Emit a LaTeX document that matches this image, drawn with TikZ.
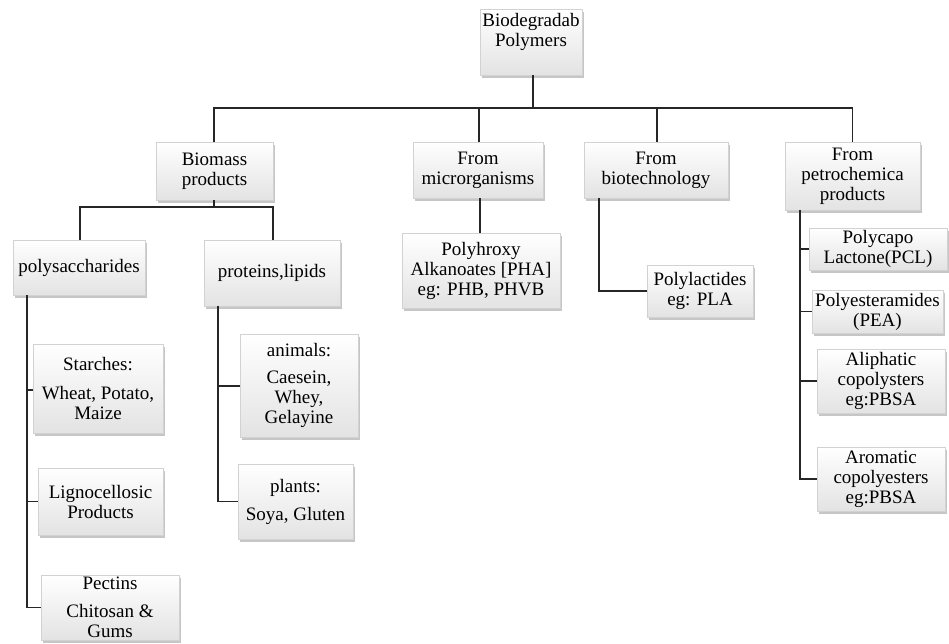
\documentclass[tikz,border=0pt]{standalone}
\usepackage{fontspec}
\setmainfont{Liberation Serif}
\usetikzlibrary{shadows}

\tikzset{
  box/.style={draw=gray!35, line width=.4pt, top color=white, bottom color=gray!22,
    drop shadow={shadow xshift=2pt, shadow yshift=-3pt, opacity=.45},
    align=center, inner sep=0pt, font=\fontsize{19}{20}\selectfont},
  sz/.style 2 args={minimum width=#1pt, minimum height=#2pt},
  link/.style={draw=black!85, line width=1.1pt},
}

\begin{document}
\begin{tikzpicture}[x=1pt, y=-1pt]
  \path[use as bounding box] (0,0) rectangle (949,644);

  \node[box, sz={102}{66}, text depth=24pt] (root) at(531,42){Biodegradab\\Polymers};
  \node[box, sz={117}{58}] (biomass) at(214.5,171){Biomass\\products};
  \node[box, sz={130}{56}] (micro) at(478,170){From\\microrganisms};
  \node[box, sz={144}{56}] (biotech) at(656,170){From\\biotechnology};
  \node[box, sz={135}{68}] (petro) at(852.5,176){From\\petrochemica\\products};

  \node[box, sz={132}{55}] (poly) at(79,267.5){polysaccharides};
  \node[box, sz={136}{66}] (prot) at(272,273){proteins,lipids};
  \node[box, sz={130}{89}] (starch) at(98,388.5){Starches:\\[9pt]Wheat, Potato,\\Maize};
  \node[box, sz={125}{67}] (ligno) at(100.5,501.5){Lignocellosic\\Products};
  \node[box, sz={138}{65}] (pectin) at(110,607.5){Pectins\\[8pt]Chitosan \&\\Gums};
  \node[box, sz={118}{103}] (animal) at(299,385.5){animals:\\[7pt]Caesein,\\Whey,\\Gelayine};
  \node[box, sz={115}{75}] (plant) at(295.5,501.5){plants:\\[8pt]Soya, Gluten};

  \node[box, sz={158}{75}] (pha) at(481,270.5){Polyhroxy\\Alkanoates [PHA]\\eg: PHB, PHVB};
  \node[box, sz={106}{52}] (pla) at(700,291){Polylactides\\eg: PLA};

  \node[box, sz={138}{42}] (pcl) at(878,249){Polycapo\\Lactone(PCL)};
  \node[box, sz={131}{43}] (pea) at(877.5,311.5){Polyesteramides\\(PEA)};
  \node[box, sz={128}{64}] (aliph) at(881,381){Aliphatic\\copolysters\\eg:PBSA};
  \node[box, sz={128}{64}] (arom) at(881,479){Aromatic\\copolyesters\\eg:PBSA};

  \coordinate (bus) at(533,108);
  \coordinate (bmj) at(214,207);
  \coordinate (pstem) at(27,295);
  \coordinate (rstem) at(218,306);
  \coordinate (bstem) at(599,198);
  \coordinate (cstem) at(800,210);

  \draw[link] (root.south -| bus) -- (bus);
  \draw[link] (biomass.north -| bmj) |- (bus -| petro.north) -- (petro.north);
  \draw[link] (bus -| 479,0) -- (micro.north -| 479,0);
  \draw[link] (bus -| 657,0) -- (biotech.north -| 657,0);

  \draw[link] (biomass.south -| bmj) -- (bmj);
  \draw[link] (poly.north -| 80,0) |- (bmj) -| (prot.north -| 273,0);

  \draw[link] (pstem) |- (pectin.west);
  \draw[link] (pstem |- 0,390) -- (starch.west |- 0,390);
  \draw[link] (pstem |- ligno.west) -- (ligno.west);

  \draw[link] (rstem) |- (plant.west);
  \draw[link] (rstem |- 0,386) -- (animal.west |- 0,386);

  \draw[link] (micro.south -| 480,0) -- (pha.north -| 480,0);
  \draw[link] (bstem) |- (pla.west);

  \draw[link] (cstem) |- (arom.west);
  \draw[link] (cstem |- pcl.west) -- (pcl.west);
  \draw[link] (cstem |- pea.west) -- (pea.west);
  \draw[link] (cstem |- aliph.west) -- (aliph.west);
\end{tikzpicture}
\end{document}
